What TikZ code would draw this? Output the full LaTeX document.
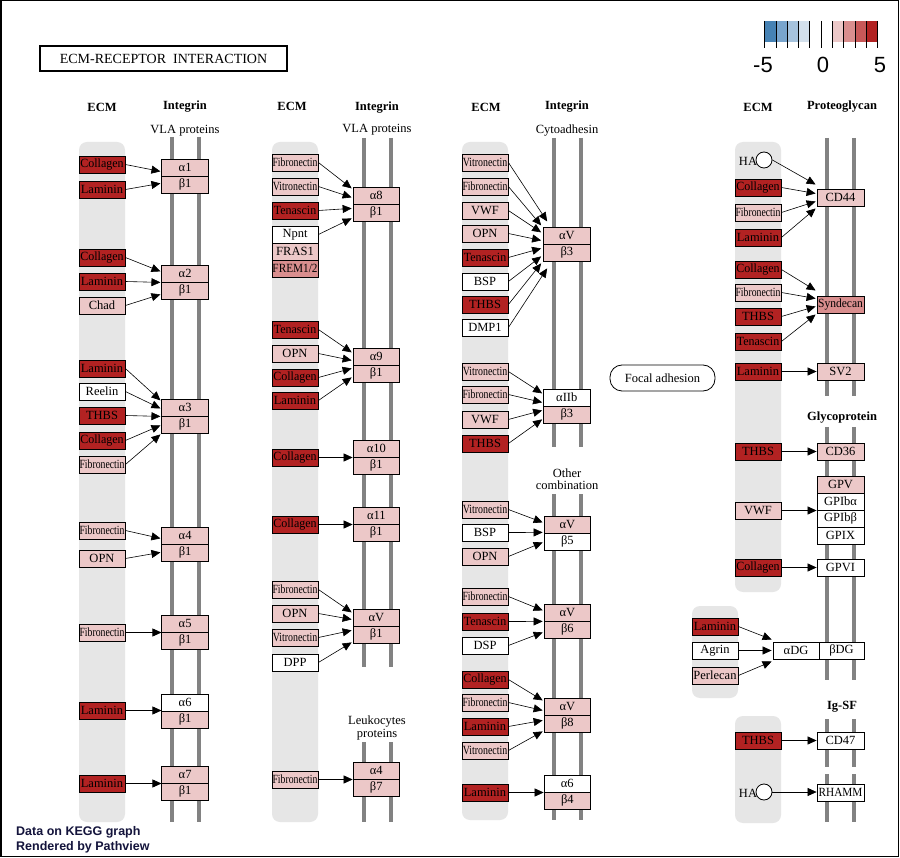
\documentclass[tikz,border=0pt]{standalone}
\usepackage{fontspec}
\setmainfont{Liberation Serif}
\newfontfamily\arialfont{Liberation Sans}
\usepackage{graphicx}
\usetikzlibrary{arrows.meta,calc}
\definecolor{dr}{HTML}{B22222}
\definecolor{lp}{HTML}{ECC8C8}
\definecolor{mp}{HTML}{D98E8E}
\definecolor{rr}{HTML}{C85858}
\definecolor{bA}{HTML}{4682B4}
\definecolor{bB}{HTML}{79A5CD}
\definecolor{bC}{HTML}{A6C3DD}
\definecolor{bD}{HTML}{D3E0EC}
\definecolor{bandgray}{HTML}{E6E6E6}
\definecolor{linegray}{HTML}{828282}
\definecolor{navy}{HTML}{14143C}
\newcommand{\sq}[2]{\scalebox{#1}[1]{#2}}
\newcommand{\fib}{\sq{0.78}{Fibronectin}}
\newcommand{\vit}{\sq{0.79}{Vitronectin}}
\newcommand{\col}{\sq{0.96}{Collagen}}
\newcommand{\ten}{\sq{0.96}{Tenascin}}
\newcommand{\ecmnode}[5]{\node[ebox,fill=#4] (#1) at ({#2+23},{#3+8.5}) {#5};}
\newcommand{\intnode}[7]{\node[ibox,fill=#4] (#1a) at ({#2+23.3},{#3+8.5}) {#5};
  \node[ibox,fill=#6] (#1b) at ({#2+23.3},{#3+25.5}) {#7};}
\newcommand{\conn}[4]{\draw[con] (#1.east) -- ($(#2a.south west)+(#3,#4)$);}
\newcommand{\hconn}[2]{\draw[con] (#1.east) -- (#1.east -| #2.west);}
\newcommand{\cconn}[3]{\draw[con] (#1.east) -- ($(#2.west)+(-1,#3)$);}
\begin{document}
\begin{tikzpicture}[x=1pt,y=-1pt,
  ebox/.style={draw,line width=0.8pt,minimum width=46pt,minimum height=17pt,inner sep=0pt,font=\fontsize{12.5}{12.5}\selectfont},
  ibox/.style={draw,line width=0.8pt,minimum width=46.5pt,minimum height=17pt,inner sep=0pt,font=\fontsize{12.5}{12.5}\selectfont},
  con/.style={line width=0.6pt,-{Triangle[length=9pt,width=8pt]}},
  band/.style={fill=bandgray,rounded corners=8pt},
  vline/.style={draw=linegray,line width=4pt},
  hdr/.style={font=\fontsize{12.5}{12.5}\selectfont\bfseries},
  lbl/.style={font=\fontsize{12.5}{12.5}\selectfont,align=center,inner sep=0pt},
]
\useasboundingbox (0,0) rectangle (900,858);
\fill[white] (0,0) rectangle (900,858);
\draw[line width=1.5pt] (0.75,0.75) rectangle (898.5,856.5);

% title
\node[draw,line width=1.3pt,minimum width=247pt,minimum height=25pt,inner sep=0pt,font=\fontsize{14}{14}\selectfont] (title) at (163.5,58.5) {ECM-RECEPTOR\ \ INTERACTION};

% legend
\foreach \c [count=\i from 0] in {bA,bB,bC,bD,white,white,lp,mp,rr,dr}
  \fill[\c] ({764.7+\i*11.3},21) rectangle ({764.7+(\i+1)*11.3},42);
\foreach \i in {0,...,10}
  \draw[line width=1pt] ({764.7+\i*11.3},21) -- ({764.7+\i*11.3},48);
\node[font=\arialfont\fontsize{22}{22}\selectfont] (lgA) at (763,65) {-5};
\node[font=\arialfont\fontsize{22}{22}\selectfont] (lgB) at (823,65) {0};
\node[font=\arialfont\fontsize{22}{22}\selectfont] (lgC) at (880,65) {5};

% bands
\fill[band] (79,142) rectangle (125,822);
\fill[band] (272,142) rectangle (318,822);
\fill[band] (462,142) rectangle (508,820);
\fill[band] (735,142) rectangle (781,592);
\fill[band] (692,606) rectangle (738,698);
\fill[band] (735,716) rectangle (781,823);

% vertical lines
\draw[vline] (172,137) -- (172,822); \draw[vline] (199,137) -- (199,822);
\draw[vline] (364,138) -- (364,667); \draw[vline] (391,138) -- (391,667);
\draw[vline] (364,742) -- (364,822); \draw[vline] (391,742) -- (391,822);
\draw[vline] (554,138) -- (554,447); \draw[vline] (581,138) -- (581,447);
\draw[vline] (554,494) -- (554,820); \draw[vline] (581,494) -- (581,820);
\foreach \a/\b in {138/396,427/680,719/767,774/822}{
  \draw[vline] (827,\a) -- (827,\b); \draw[vline] (854,\a) -- (854,\b);}

% headers
\node[hdr] (h1) at (102,107) {ECM};
\node[hdr] (h2) at (185,107) {Integrin};
\node[hdr] (h3) at (292,106) {ECM};
\node[hdr] (h4) at (377,108) {Integrin};
\node[hdr] (h5) at (486,107) {ECM};
\node[hdr] (h6) at (567,107) {Integrin};
\node[hdr] (h7) at (758,107) {ECM};
\node[hdr] (h8) at (842,107) {Proteoglycan};
\node[hdr] (h9) at (842,418) {Glycoprotein};
\node[hdr] (h10) at (842,707) {Ig-SF};
\node[lbl] (s1) at (185,131) {VLA proteins};
\node[lbl] (s2) at (377,130) {VLA proteins};
\node[lbl] (s3) at (567,131) {Cytoadhesin};
\node[lbl] (s4) at (377,728) {Leukocytes\\proteins};
\node[lbl] (s5) at (567,479) {Other\\combination};

% ---------- column 1 ----------
\intnode{pa}{161.8}{159}{lp}{α1}{lp}{β1}
\ecmnode{a1}{79}{156}{dr}{\col}
\ecmnode{a2}{79}{181}{dr}{Laminin}
\conn{a1}{pa}{-1}{-5} \conn{a2}{pa}{-1}{7}

\intnode{pb}{161.8}{265}{lp}{α2}{lp}{β1}
\ecmnode{b1}{79}{249}{dr}{\col}
\ecmnode{b2}{79}{273}{dr}{Laminin}
\ecmnode{b3}{79}{297}{lp}{Chad}
\conn{b1}{pb}{-1}{-11} \conn{b2}{pb}{-1}{0} \conn{b3}{pb}{-1}{12}

\intnode{pc}{161.8}{399}{lp}{α3}{lp}{β1}
\ecmnode{c1}{79}{360}{dr}{Laminin}
\ecmnode{c2}{79}{383}{white}{Reelin}
\ecmnode{c3}{79}{407}{dr}{THBS}
\ecmnode{c4}{79}{432}{dr}{\col}
\ecmnode{c5}{79}{456}{lp}{\fib}
\conn{c1}{pc}{-1}{-16} \conn{c2}{pc}{-1}{-8} \conn{c3}{pc}{-1}{0}
\conn{c4}{pc}{-1}{9} \conn{c5}{pc}{-1}{18}

\intnode{pd}{161.8}{527}{lp}{α4}{lp}{β1}
\ecmnode{d1}{79}{522}{lp}{\fib}
\ecmnode{d2}{79}{550}{lp}{OPN}
\conn{d1}{pd}{-1}{-6} \conn{d2}{pd}{-1}{8}

\intnode{pe}{161.8}{615}{lp}{α5}{lp}{β1}
\ecmnode{e1}{79}{624}{lp}{\fib}
\hconn{e1}{pea}

\intnode{pf}{161.8}{694}{white}{α6}{lp}{β1}
\ecmnode{f1}{79}{702}{dr}{Laminin}
\hconn{f1}{pfa}

\intnode{pg}{161.8}{766}{lp}{α7}{lp}{β1}
\ecmnode{g1}{79}{775}{dr}{Laminin}
\hconn{g1}{pga}

% ---------- column 2 ----------
\intnode{qa}{353}{187}{lp}{α8}{lp}{β1}
\ecmnode{qa1}{272}{154}{lp}{\fib}
\ecmnode{qa2}{272}{178}{lp}{\vit}
\ecmnode{qa3}{272}{202}{dr}{\ten}
\ecmnode{qa4}{272}{226}{white}{Npnt}
\ecmnode{qa5}{272}{243}{lp}{FRAS1}
\ecmnode{qa6}{272}{260}{mp}{\sq{0.9}{FREM1/2}}
\conn{qa1}{qa}{-1}{-16} \conn{qa2}{qa}{-1}{-7} \conn{qa3}{qa}{-1}{4} \conn{qa4}{qa}{-1}{14}

\intnode{qb}{353}{348}{lp}{α9}{lp}{β1}
\ecmnode{qb1}{272}{321}{dr}{\ten}
\ecmnode{qb2}{272}{345}{lp}{OPN}
\ecmnode{qb3}{272}{369}{dr}{\col}
\ecmnode{qb4}{272}{392}{dr}{Laminin}
\conn{qb1}{qb}{-1}{-13} \conn{qb2}{qb}{-1}{-5} \conn{qb3}{qb}{-1}{3} \conn{qb4}{qb}{-1}{12}

\intnode{qc}{353}{440}{lp}{α10}{lp}{β1}
\ecmnode{qc1}{272}{449}{dr}{\col}
\hconn{qc1}{qca}

\intnode{qd}{353}{507}{lp}{α11}{lp}{β1}
\ecmnode{qd1}{272}{516}{dr}{\col}
\hconn{qd1}{qda}

\intnode{qe}{353}{609}{lp}{αV}{lp}{β1}
\ecmnode{qe1}{272}{581}{lp}{\fib}
\ecmnode{qe2}{272}{605}{lp}{OPN}
\ecmnode{qe3}{272}{629}{lp}{\vit}
\ecmnode{qe4}{272}{654}{white}{DPP}
\conn{qe1}{qe}{-1}{-14} \conn{qe2}{qe}{-1}{-7} \conn{qe3}{qe}{-1}{4} \conn{qe4}{qe}{-1}{16}

\intnode{qf}{353}{762}{lp}{α4}{lp}{β7}
\ecmnode{qf1}{272}{771}{lp}{\fib}
\hconn{qf1}{qfa}

% ---------- column 3 ----------
\intnode{ra}{543.5}{227}{lp}{αV}{lp}{β3}
\ecmnode{ra1}{462}{154}{lp}{\vit}
\ecmnode{ra2}{462}{178}{lp}{\fib}
\ecmnode{ra3}{462}{202}{lp}{VWF}
\ecmnode{ra4}{462}{225}{lp}{OPN}
\ecmnode{ra5}{462}{249}{dr}{\ten}
\ecmnode{ra6}{462}{273}{white}{BSP}
\ecmnode{ra7}{462}{296}{dr}{THBS}
\ecmnode{ra8}{462}{319}{white}{DMP1}
\conn{ra1}{ra}{4}{-23} \conn{ra2}{ra}{-2}{-19} \conn{ra3}{ra}{-2}{-12}
\conn{ra4}{ra}{-2}{-4} \conn{ra5}{ra}{-2}{4} \conn{ra6}{ra}{-2}{12}
\conn{ra7}{ra}{-2}{19} \conn{ra8}{ra}{4}{24}

\intnode{rb}{543.5}{389}{white}{αIIb}{lp}{β3}
\ecmnode{rb1}{462}{363}{lp}{\vit}
\ecmnode{rb2}{462}{386}{lp}{\fib}
\ecmnode{rb3}{462}{411}{lp}{VWF}
\ecmnode{rb4}{462}{435}{dr}{THBS}
\conn{rb1}{rb}{-1}{-13} \conn{rb2}{rb}{-1}{-4} \conn{rb3}{rb}{-1}{4} \conn{rb4}{rb}{-1}{13}

\intnode{rc}{544}{516}{lp}{αV}{white}{β5}
\ecmnode{rc1}{462}{501}{lp}{\vit}
\ecmnode{rc2}{462}{524}{white}{BSP}
\ecmnode{rc3}{462}{548}{lp}{OPN}
\conn{rc1}{rc}{-1}{-11} \conn{rc2}{rc}{-1}{-1} \conn{rc3}{rc}{-1}{9}

\intnode{rd}{544}{604}{lp}{αV}{lp}{β6}
\ecmnode{rd1}{462}{588}{lp}{\fib}
\ecmnode{rd2}{462}{613}{dr}{\ten}
\ecmnode{rd3}{462}{637}{white}{DSP}
\conn{rd1}{rd}{-1}{-11} \conn{rd2}{rd}{-1}{0} \conn{rd3}{rd}{-1}{11}

\intnode{re}{544}{698}{lp}{αV}{lp}{β8}
\ecmnode{re1}{462}{671}{dr}{\col}
\ecmnode{re2}{462}{694}{lp}{\fib}
\ecmnode{re3}{462}{718}{dr}{Laminin}
\ecmnode{re4}{462}{742}{lp}{\vit}
\conn{re1}{re}{-1}{-15} \conn{re2}{re}{-1}{-5} \conn{re3}{re}{-1}{5} \conn{re4}{re}{-1}{16}

\intnode{rf}{544}{775}{white}{α6}{lp}{β4}
\ecmnode{rf1}{462}{784}{dr}{Laminin}
\hconn{rf1}{rfa}

% focal adhesion
\node[draw,line width=0.8pt,rounded corners=12pt,minimum width=105pt,minimum height=26pt,inner sep=0pt,font=\fontsize{12.5}{12.5}\selectfont] (focal) at (662.5,378) {Focal adhesion};

% ---------- column 4 ----------
\node[font=\fontsize{12.5}{12.5}\selectfont] (hatxt) at (748,161) {HA};
\node[circle,draw,fill=white,line width=0.8pt,minimum size=16pt,inner sep=0pt] (ha1) at (764,160) {};
\node[ebox,fill=lp,minimum width=47pt] (cd44) at (840.5,197.5) {CD44};
\ecmnode{ta1}{735}{179}{dr}{\col}
\ecmnode{ta2}{735}{204}{lp}{\fib}
\ecmnode{ta3}{735}{229}{dr}{Laminin}
\cconn{ha1}{cd44}{-13} \cconn{ta1}{cd44}{-4} \cconn{ta2}{cd44}{4} \cconn{ta3}{cd44}{11}

\node[ebox,fill=mp,minimum width=47pt] (synd) at (840.5,304.5) {\sq{0.92}{Syndecan}};
\ecmnode{tb1}{735}{261}{dr}{\col}
\ecmnode{tb2}{735}{284}{lp}{\fib}
\ecmnode{tb3}{735}{308}{dr}{THBS}
\ecmnode{tb4}{735}{333}{dr}{\ten}
\cconn{tb1}{synd}{-14} \cconn{tb2}{synd}{-6} \cconn{tb3}{synd}{2} \cconn{tb4}{synd}{10}

\node[ebox,fill=lp,minimum width=47pt] (sv2) at (840.5,371.5) {SV2};
\ecmnode{tc1}{735}{363}{dr}{Laminin}
\hconn{tc1}{sv2}

\node[ebox,fill=lp,minimum width=47pt] (cd36) at (840.5,451.5) {CD36};
\ecmnode{td1}{735}{443}{dr}{THBS}
\hconn{td1}{cd36}

\node[ebox,fill=lp,minimum width=47pt] (gpv) at (840.5,484.5) {GPV};
\node[ebox,fill=white,minimum width=47pt] (gpiba) at (840.5,501.5) {GPIbα};
\node[ebox,fill=white,minimum width=47pt] (gpibb) at (840.5,518.5) {GPIbβ};
\node[ebox,fill=white,minimum width=47pt] (gpix) at (840.5,535.5) {GPIX};
\ecmnode{te1}{735}{502}{lp}{VWF}
\hconn{te1}{gpiba}

\node[ebox,fill=white,minimum width=47pt] (gpvi) at (840.5,567.5) {GPVI};
\ecmnode{tf1}{735}{559}{dr}{\col}
\hconn{tf1}{gpvi}

\node[ebox,fill=white] (adg) at (796,650.5) {αDG};
\node[ebox,fill=white,minimum width=45pt] (bdg) at (841.5,650.5) {βDG};
\ecmnode{tg1}{692}{618}{dr}{Laminin}
\ecmnode{tg2}{692}{642}{white}{Agrin}
\ecmnode{tg3}{692}{667}{lp}{Perlecan}
\cconn{tg1}{adg}{-11} \cconn{tg2}{adg}{0} \cconn{tg3}{adg}{11}

\node[ebox,fill=white,minimum width=47pt] (cd47) at (840.5,740.5) {CD47};
\ecmnode{th1}{735}{732}{dr}{THBS}
\hconn{th1}{cd47}

\node[font=\fontsize{12.5}{12.5}\selectfont] (hatxt2) at (748,793) {HA};
\node[circle,draw,fill=white,line width=0.8pt,minimum size=16pt,inner sep=0pt] (ha2) at (764,792) {};
\node[ebox,fill=white,minimum width=47pt] (rhamm) at (840.5,792.5) {\sq{0.9}{RHAMM}};
\draw[con] (ha2.east) -- (ha2.east -| rhamm.west);

% footer
\node[anchor=west,inner sep=0pt,font=\arialfont\bfseries\fontsize{12.5}{12.5}\selectfont,text=navy] (ft1) at (16,832) {Data on KEGG graph};
\node[anchor=west,inner sep=0pt,font=\arialfont\bfseries\fontsize{12.5}{12.5}\selectfont,text=navy] (ft2) at (16,847) {Rendered by Pathview};
\end{tikzpicture}
\end{document}
